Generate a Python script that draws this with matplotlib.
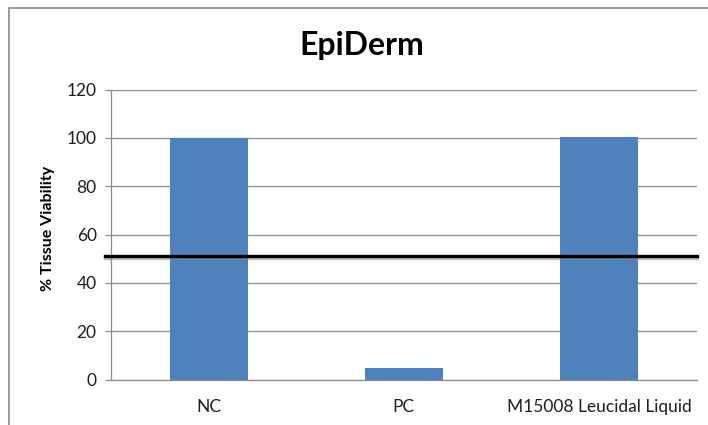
import matplotlib
matplotlib.use("Agg")
import matplotlib.pyplot as plt
import matplotlib.patheffects as pe
from matplotlib.patches import Rectangle

# data
categories = ["NC", "PC", "M15008 Leucidal Liquid"]
viability = [100.0, 4.8, 100.5]
threshold = 51.3

bar_color = "#4F81BD"
grid_color = "#8C8C8C"
text_color = "#1E1E1E"

plt.rcParams["font.family"] = ["Lato", "DejaVu Sans"]

fig = plt.figure(figsize=(7.08, 4.25), dpi=100)
ax = fig.add_axes([111 / 708, 1 - 379.7 / 425, (696.7 - 111) / 708, (379.7 - 89.5) / 425])

x = range(len(categories))
ax.bar(x, viability, width=0.4, color=bar_color, zorder=2)

ax.set_xlim(-0.5, len(categories) - 0.5)
ax.set_ylim(0, 120)
ax.set_yticks(range(0, 121, 20))
ax.set_xticks(list(x))
ax.set_xticklabels(categories)

ax.yaxis.grid(True, color=grid_color, linewidth=0.9, zorder=0)
ax.set_axisbelow(True)
for side in ("top", "right"):
    ax.spines[side].set_visible(False)
ax.spines["left"].set_color(grid_color)
ax.spines["bottom"].set_color(grid_color)
ax.spines["left"].set_linewidth(0.9)
ax.spines["bottom"].set_linewidth(0.9)

ax.tick_params(axis="y", length=4.3, width=0.9, color=grid_color, pad=6,
               labelsize=12.5, labelcolor=text_color)
ax.tick_params(axis="x", length=0, pad=14, labelsize=12.5, labelcolor=text_color)

ax.set_ylabel("% Tissue Viability", fontsize=11.5, fontweight="bold", color="black")
ax.yaxis.set_label_coords((55 - 111) / 585.7, (379.7 - 228) / 290.2)
fig.text(361.5 / 708, 1 - 45 / 425, "EpiDerm", fontsize=23, fontweight="bold",
         ha="center", va="center", color="black")

# 50% cut-off line with a soft shadow, reaching past the axis on the left
ax.axhline(threshold, xmin=-0.0105, xmax=1.0, color="black", linewidth=2.4, clip_on=False, zorder=4,
           path_effects=[pe.SimpleLineShadow(offset=(0, -1.5), shadow_color="gray", alpha=0.5),
                         pe.Normal()])

# chart frame (only top and left edges show in the crop)
fig.add_artist(Rectangle((9 / 708, -0.2), 1.2, 1 - 8 / 425 + 0.2, transform=fig.transFigure,
                         fill=False, edgecolor="#8C8C8C", linewidth=1.2))

fig.savefig("out.png", dpi=100)
